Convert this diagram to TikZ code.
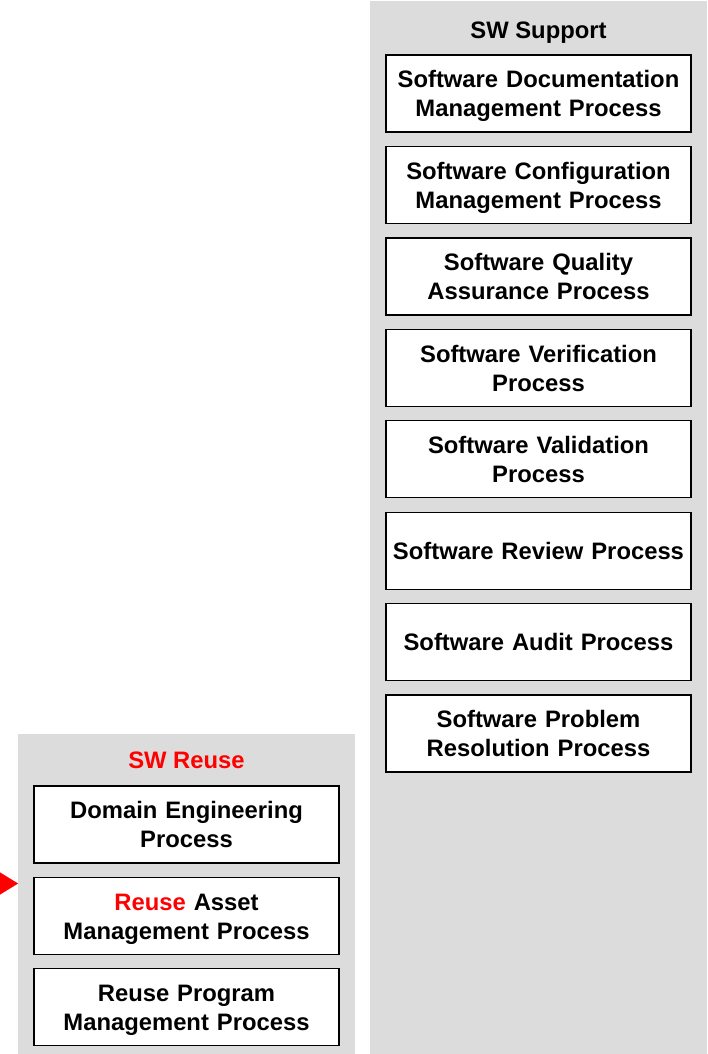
\documentclass[tikz,border=0pt]{standalone}
\usepackage{fontspec}
\setmainfont{Liberation Sans}
\usetikzlibrary{arrows.meta}
\definecolor{panelgray}{RGB}{220,220,220}
\begin{document}
\begin{tikzpicture}[x=1pt,y=-1pt,
  capcenter/.style={execute at begin node={\rule{0pt}{24pt}},execute at end node={\rule[-6.8pt]{0pt}{6.8pt}}},
  panel/.style={fill=panelgray,draw=none,inner sep=0pt,anchor=north west},
  procbox/.style={capcenter,draw=black,line width=1.6pt,fill=white,minimum width=305pt,minimum height=77pt,
    text width=300pt,align=center,inner sep=0pt,font=\bfseries\fontsize{23.8}{29}\selectfont},
  title/.style={capcenter,inner sep=0pt,font=\bfseries\fontsize{23.8}{29}\selectfont}]
\useasboundingbox (0,0) rectangle (707,1054);
% panels
\node[panel,minimum width=337pt,minimum height=1053pt] (suppanel) at (370,1) {};
\node[panel,minimum width=337pt,minimum height=320pt] (reupanel) at (18,734) {};
% titles
\node[title] (suptitle) at (538.5,30) {SW Support};
\node[title,text=red] (reutitle) at (186.5,760) {SW Reuse};
% support boxes
\node[procbox] (doc) at (538.5,93.5) {Software Documentation\\Management Process};
\node[procbox] (cfg) at (538.5,185) {Software Configuration\\Management Process};
\node[procbox] (qa)  at (538.5,276.5) {Software Quality\\Assurance Process};
\node[procbox] (ver) at (538.5,368) {Software Verification\\Process};
\node[procbox] (val) at (538.5,459) {Software Validation\\Process};
\node[procbox] (rev) at (538.5,551) {Software Review Process};
\node[procbox] (aud) at (538.5,642) {Software Audit Process};
\node[procbox] (prb) at (538.5,733.5) {Software Problem\\Resolution Process};
% reuse boxes
\node[procbox] (dom) at (186.5,824.5) {Domain Engineering\\Process};
\node[procbox] (ram) at (186.5,916) {\textcolor{red}{Reuse} Asset\\Management Process};
\node[procbox] (rpm) at (186.5,1007) {Reuse Program\\Management Process};
% incoming arrow
\coordinate (src) at (0,883.5);
\coordinate (dst) at (18,883.5);
\draw[red,line width=0.1pt,-{Triangle[length=18pt,width=22pt]}] (src) -- (dst);
\end{tikzpicture}
\end{document}
